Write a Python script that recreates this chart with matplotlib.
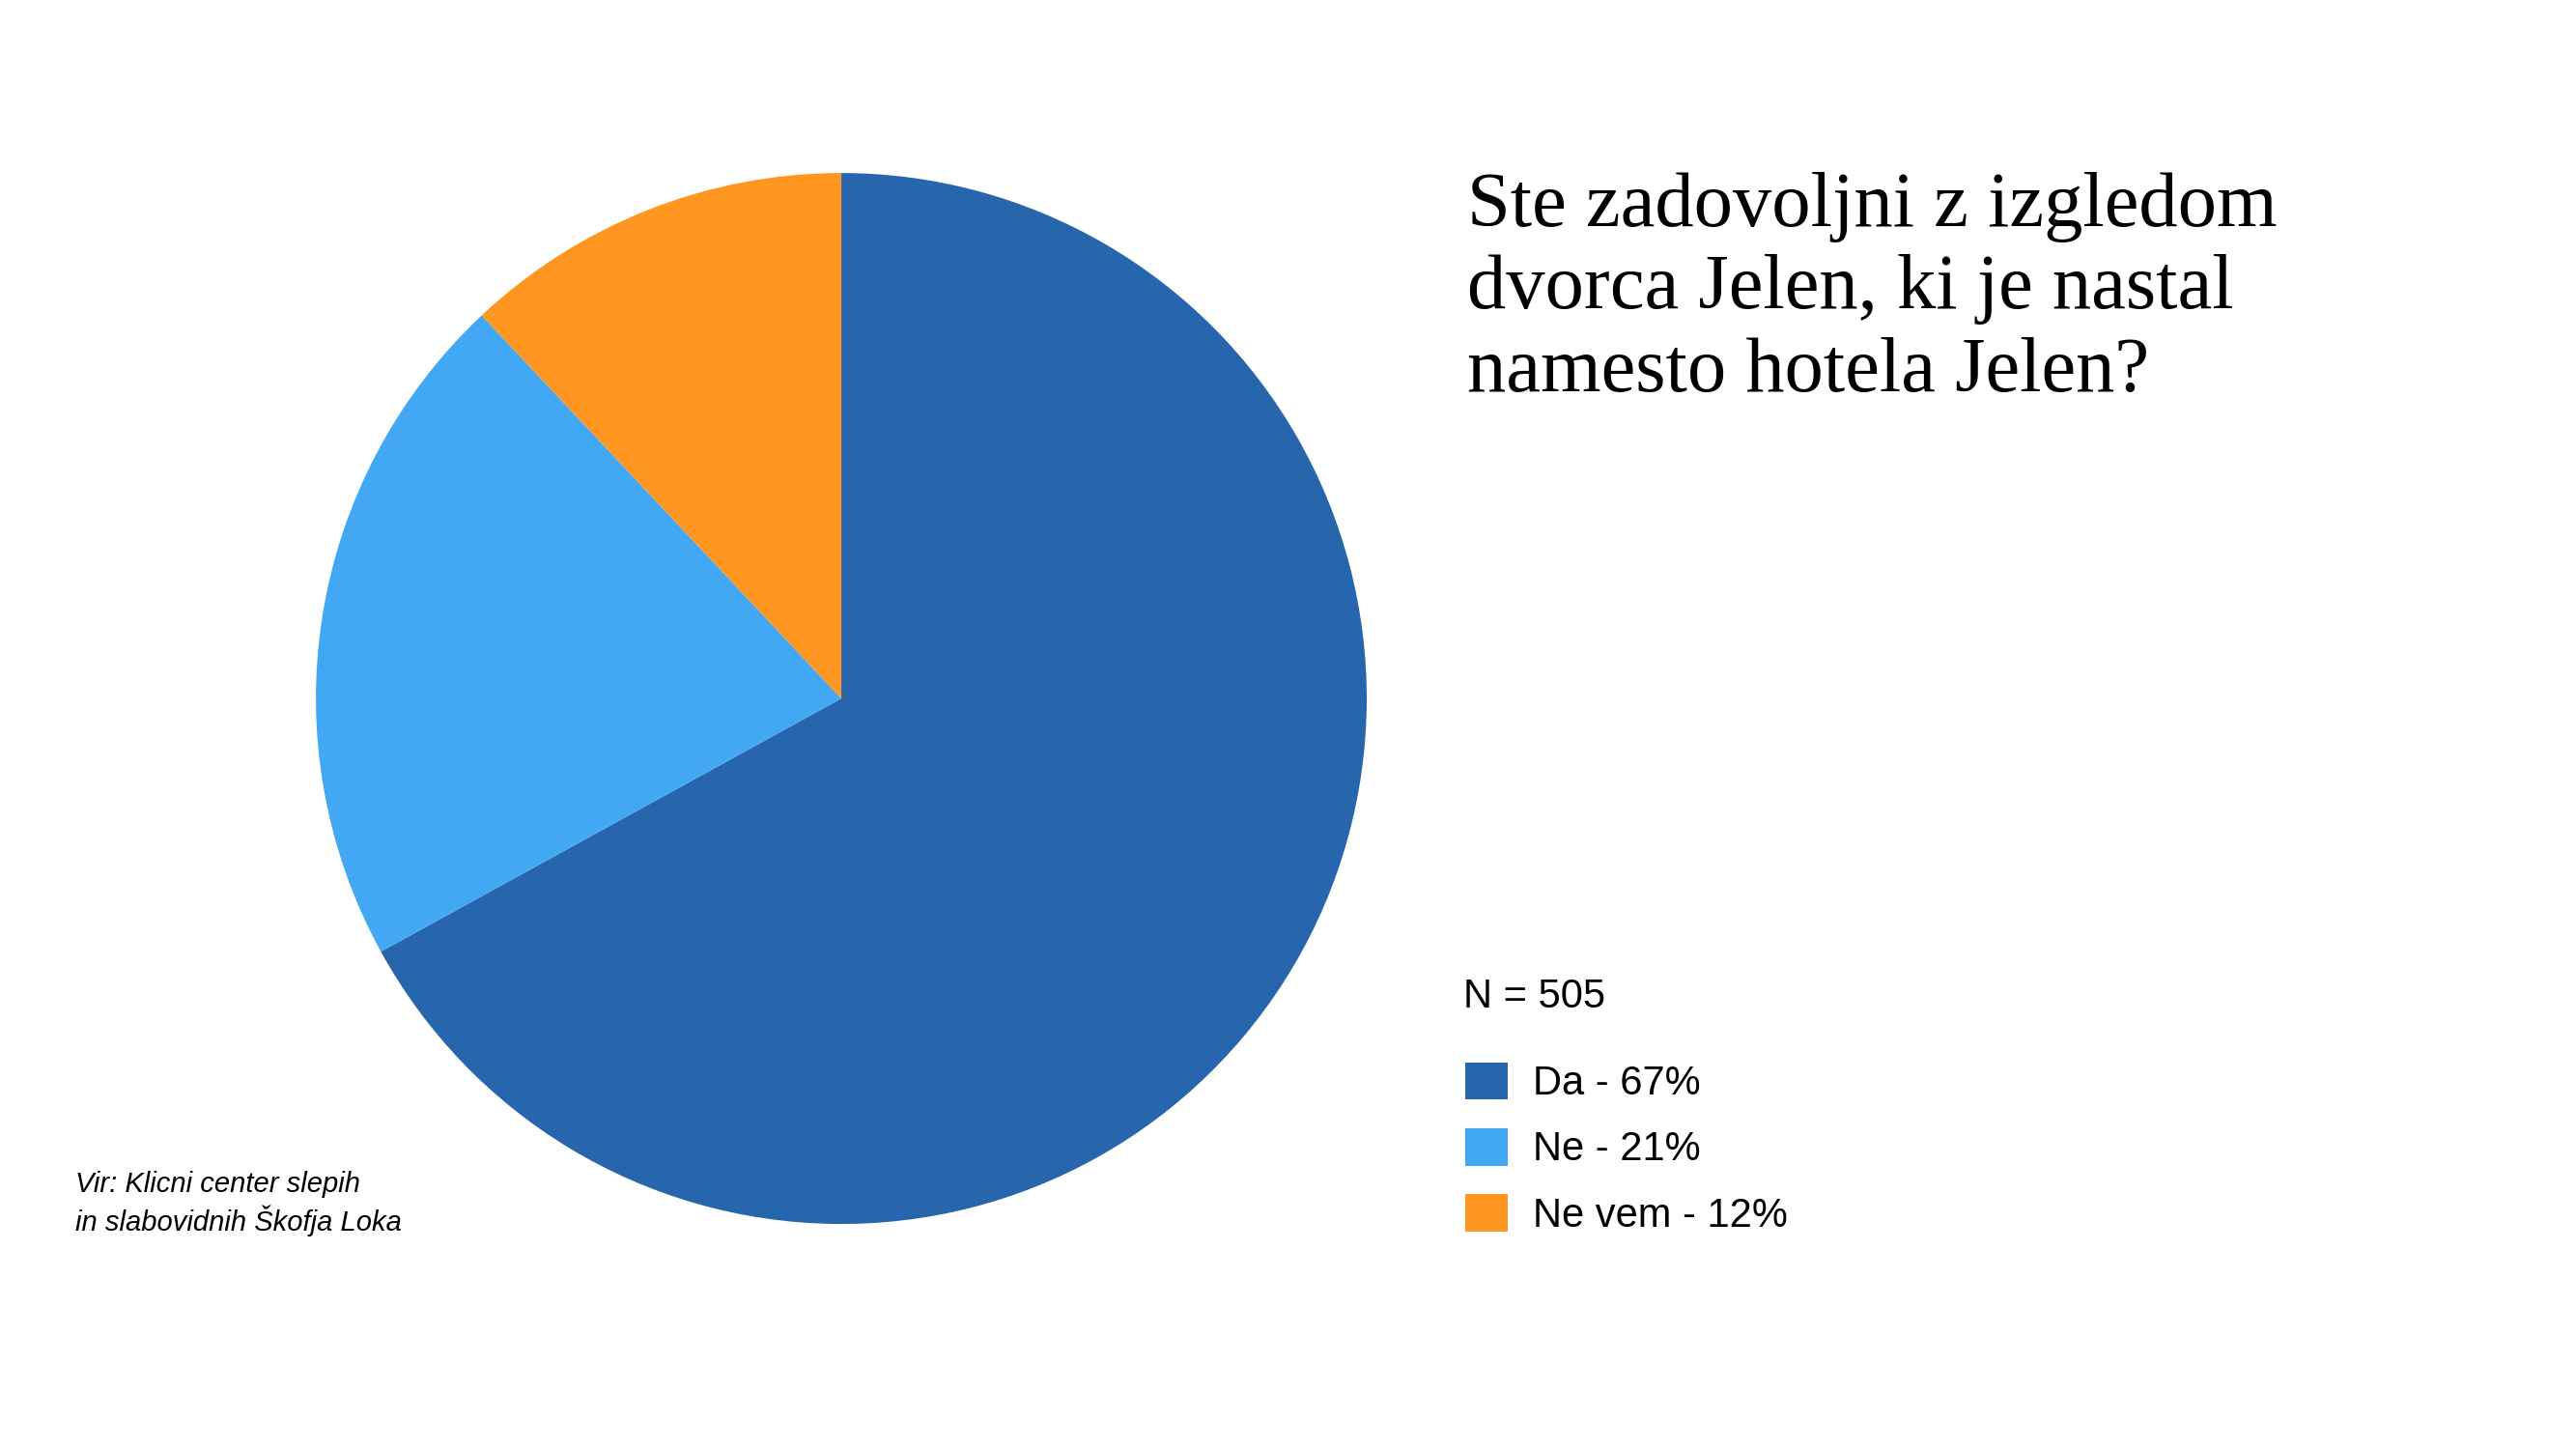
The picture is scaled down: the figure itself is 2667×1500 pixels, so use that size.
import matplotlib.pyplot as plt

labels = ['Da', 'Ne', 'Ne vem']
shares = [67, 21, 12]
colors = ['#2766ad', '#42a8f4', '#ff9622']
n_total = 505

title = 'Ste zadovoljni z izgledom\ndvorca Jelen, ki je nastal\nnamesto hotela Jelen?'
source = 'Vir: Klicni center slepih\nin slabovidnih Škofja Loka'

fig = plt.figure(figsize=(26.67, 15), dpi=100)
ax = fig.add_axes([0.1226, 0.1553, 0.408, 0.7253])
wedges, _ = ax.pie(shares, colors=colors, startangle=90, counterclock=False,
                   radius=1, wedgeprops={'linewidth': 0})
ax.set_xlim(-1, 1)
ax.set_ylim(-1, 1)
ax.set_aspect('equal')
ax.axis('off')

# naslov
fig.text(0.5695, 1 - 178 / 1500, title, family='Liberation Serif', fontsize=58,
         va='top', ha='left', linespacing=1.22)

fig.text(0.568, 1 - 1032 / 1500, f'N = {n_total}', family='Liberation Sans',
         fontsize=30, va='center', ha='left')

legend_labels = [f'{l} - {s}%' for l, s in zip(labels, shares)]
fig.legend(wedges, legend_labels, loc='upper left', bbox_to_anchor=(0.5688, 0.267),
           frameon=False, borderpad=0, borderaxespad=0, handlelength=1.05,
           handleheight=1.05, handletextpad=0.62, labelspacing=0.62,
           prop={'family': 'Liberation Sans', 'size': 30})

fig.text(0.0293, 1 - 1246 / 1500, source, family='Liberation Sans', style='italic',
         fontsize=21, va='center', ha='left', linespacing=1.3)

fig.savefig('out.png', dpi=100)
